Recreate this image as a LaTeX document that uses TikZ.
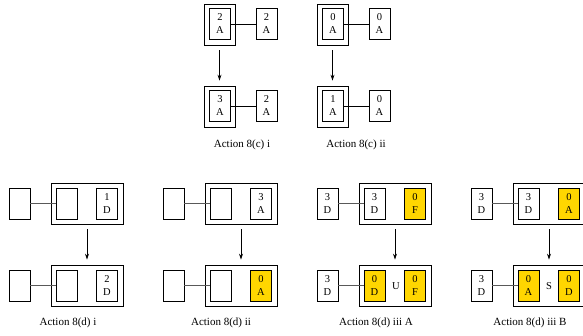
\documentclass[tikz,border=0pt]{standalone}
\usepackage{fontspec}
\setmainfont{Liberation Serif}
\usetikzlibrary{arrows.meta}
\definecolor{gold}{RGB}{255,214,0}
\tikzset{
  cell/.style={draw, line width=0.8pt, minimum width=21pt, minimum height=31pt, inner sep=0pt, align=center, font=\fontsize{10.5}{13}\selectfont},
  hot/.style={cell, fill=gold},
  frame/.style={draw, line width=0.8pt, inner sep=0pt},
  link/.style={line width=0.9pt},
  glink/.style={line width=1pt, draw=black!65},
  flow/.style={line width=0.8pt, -{Stealth[length=6pt,width=4pt]}, shorten <=5pt, shorten >=5pt},
  captext/.style={font=\fontsize{11}{13}\selectfont},
  midtext/.style={font=\fontsize{10.5}{13}\selectfont, inner sep=0pt}
}
\begin{document}
\begin{tikzpicture}[x=1pt,y=-1pt]
\useasboundingbox (0,0) rectangle (583,335);
\clip (0,0) rectangle (583,335);
% ---- Action 8(c) i
\node[frame, minimum width=31pt, minimum height=41pt] (ao1) at (219.5,24.5) {};
\node[cell] (ai1) at (220,24) {2\\A};
\node[cell] (ar1) at (266.5,24) {2\\A};
\draw[link] (ai1) -- (ar1);
\node[frame, minimum width=31pt, minimum height=41pt] (ao2) at (219.5,106.5) {};
\node[cell] (ai2) at (220,106) {3\\A};
\node[cell] (ar2) at (266.5,106) {2\\A};
\draw[link] (ai2) -- (ar2);
\draw[flow] (ao1) -- (ao2);
\node[captext] (capa) at (242,145) {Action 8(c) i};
% ---- Action 8(c) ii
\node[frame, minimum width=31pt, minimum height=41pt] (bo1) at (332.5,24.5) {};
\node[cell] (bi1) at (333,24) {0\\A};
\node[cell] (br1) at (379.5,24) {0\\A};
\draw[link] (bi1) -- (br1);
\node[frame, minimum width=31pt, minimum height=41pt] (bo2) at (332.5,106.5) {};
\node[cell] (bi2) at (333,106) {1\\A};
\node[cell] (br2) at (379.5,106) {0\\A};
\draw[link] (bi2) -- (br2);
\draw[flow] (bo1) -- (bo2);
\node[captext] (capb) at (356,145) {Action 8(c) ii};
% ---- Action 8(d) i  (x0 = 9)
\node[frame, minimum width=72pt, minimum height=41pt] (co1) at (87,203.5) {};
\node[cell] (cl1) at (19.5,203.5) {};
\node[cell] (ca1) at (66.5,203.5) {};
\node[cell] (cb1) at (107,203.5) {1\\D};
\draw[glink] (cl1) -- (ca1);
\node[frame, minimum width=72pt, minimum height=41pt] (co2) at (87,285.5) {};
\node[cell] (cl2) at (19.5,285.5) {};
\node[cell] (ca2) at (66.5,285.5) {};
\node[cell] (cb2) at (107,285.5) {2\\D};
\draw[glink] (cl2) -- (ca2);
\draw[flow] (co1) -- (co2);
\node[captext] (capc) at (68,323) {Action 8(d) i};
% ---- Action 8(d) ii  (x0 = 163)
\node[frame, minimum width=72pt, minimum height=41pt] (do1) at (241,203.5) {};
\node[cell] (dl1) at (173.5,203.5) {};
\node[cell] (da1) at (220.5,203.5) {};
\node[cell] (db1) at (261,203.5) {3\\A};
\draw[glink] (dl1) -- (da1);
\node[frame, minimum width=72pt, minimum height=41pt] (do2) at (241,285.5) {};
\node[cell] (dl2) at (173.5,285.5) {};
\node[cell] (da2) at (220.5,285.5) {};
\node[hot] (db2) at (261,285.5) {0\\A};
\draw[glink] (dl2) -- (da2);
\draw[flow] (do1) -- (do2);
\node[captext] (capd) at (221,323) {Action 8(d) ii};
% ---- Action 8(d) iii A  (x0 = 317)
\node[frame, minimum width=72pt, minimum height=41pt] (eo1) at (395,203.5) {};
\node[cell] (el1) at (327.5,203.5) {3\\D};
\node[cell] (ea1) at (374.5,203.5) {3\\D};
\node[hot] (eb1) at (415,203.5) {0\\F};
\draw[glink] (el1) -- (ea1);
\node[frame, minimum width=72pt, minimum height=41pt] (eo2) at (395,285.5) {};
\node[cell] (el2) at (327.5,285.5) {3\\D};
\node[hot] (ea2) at (374.5,285.5) {0\\D};
\node[hot] (eb2) at (415,285.5) {0\\F};
\node[midtext] (em2) at (396,286) {U};
\draw[glink] (el2) -- (ea2);
\draw[flow] (eo1) -- (eo2);
\node[captext] (cape) at (376,323) {Action 8(d) iii A};
% ---- Action 8(d) iii B  (x0 = 471)
\node[frame, minimum width=72pt, minimum height=41pt] (fo1) at (549,203.5) {};
\node[cell] (fl1) at (481.5,203.5) {3\\D};
\node[cell] (fa1) at (528.5,203.5) {3\\D};
\node[hot] (fb1) at (569,203.5) {0\\A};
\draw[glink] (fl1) -- (fa1);
\node[frame, minimum width=72pt, minimum height=41pt] (fo2) at (549,285.5) {};
\node[cell] (fl2) at (481.5,285.5) {3\\D};
\node[hot] (fa2) at (528.5,285.5) {0\\A};
\node[hot] (fb2) at (569,285.5) {0\\D};
\node[midtext] (fm2) at (549,286) {S};
\draw[glink] (fl2) -- (fa2);
\draw[flow] (fo1) -- (fo2);
\node[captext] (capf) at (530,323) {Action 8(d) iii B};
\end{tikzpicture}
\end{document}
